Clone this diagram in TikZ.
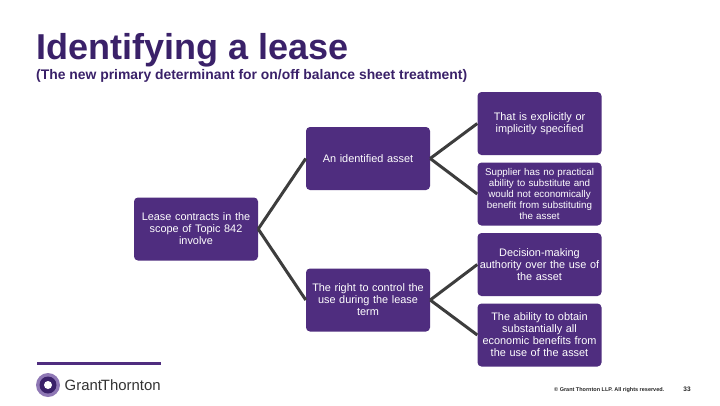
\documentclass[tikz,border=0pt]{standalone}
\usepackage{fontspec}
\setmainfont{Liberation Sans}
\definecolor{gtpurple}{HTML}{4F2D7F}
\definecolor{gtdark}{HTML}{3A2169}
\definecolor{gtlight}{HTML}{8F78B5}
\definecolor{gtline}{HTML}{3D3D3D}
\tikzset{
  x=1pt,y=-1pt,
  leasebox/.style={fill=gtpurple,rounded corners=4pt,minimum width=124pt,minimum height=63pt,inner sep=0pt,
    text=white,align=center,text width=123pt,font=\fontsize{10.9pt}{12pt}\selectfont},
  smallbox/.style={leasebox,font=\fontsize{9.8pt}{10.8pt}\selectfont},
  link/.style={draw=gtline,line width=3pt},
}
\begin{document}
\begin{tikzpicture}
\useasboundingbox (0,0) rectangle (720,405);
\fill[white] (0,0) rectangle (720,405);
\node[anchor=west,inner sep=0pt,text=gtdark,font=\fontsize{36pt}{40pt}\selectfont\bfseries] (title) at (36,50) {Identifying a lease};
\node[anchor=west,inner sep=0pt,text=gtdark,font=\fontsize{13.9pt}{15pt}\selectfont\bfseries] (subtitle) at (36,75.5) {(The new primary determinant for on/off balance sheet treatment)};

\node[leasebox] (root) at (196,229) {Lease contracts in the\\scope of Topic 842\\involve};
\node[leasebox] (asset) at (368,158.5) {An identified asset};
\node[leasebox] (control) at (368,300) {The right to control the\\use during the lease\\term};
\node[leasebox] (spec) at (539.5,123.5) {That is explicitly or\\implicitly specified};
\node[smallbox] (supplier) at (539.5,194) {Supplier has no practical\\ability to substitute and\\would not economically\\benefit from substituting\\the asset};
\node[leasebox] (decision) at (539.5,264.5) {Decision-making\\authority over the use of\\the asset};
\node[leasebox] (benefit) at (539.5,335) {The ability to obtain\\substantially all\\economic benefits from\\the use of the asset};

\draw[link] (root.east) -- (asset.west);
\draw[link] (root.east) -- (control.west);
\draw[link] (asset.east) -- (spec.west);
\draw[link] (asset.east) -- (supplier.west);
\draw[link] (control.east) -- (decision.west);
\draw[link] (control.east) -- (benefit.west);

% footer
\fill[gtpurple] (37,361.5) rectangle (161,364.5);
\fill[gtlight] (48,385) circle (12);
\fill[gtdark] (48,385) circle (8.5);
\fill[white] (48,385) circle (4);
\node[anchor=west,inner sep=0pt,text=black!80,font=\fontsize{14.9pt}{18pt}\selectfont] (logo) at (64.5,385) {Grant\kern-1pt Thornton};
\node[anchor=west,inner sep=0pt,text=black!85,font=\fontsize{5.5pt}{6pt}\selectfont\bfseries] (copy) at (554,390) {© Grant Thornton LLP. All rights reserved.};
\node[anchor=center,inner sep=0pt,text=black!85,font=\fontsize{6.5pt}{8pt}\selectfont\bfseries] (page) at (687,389) {33};
\end{tikzpicture}
\end{document}
